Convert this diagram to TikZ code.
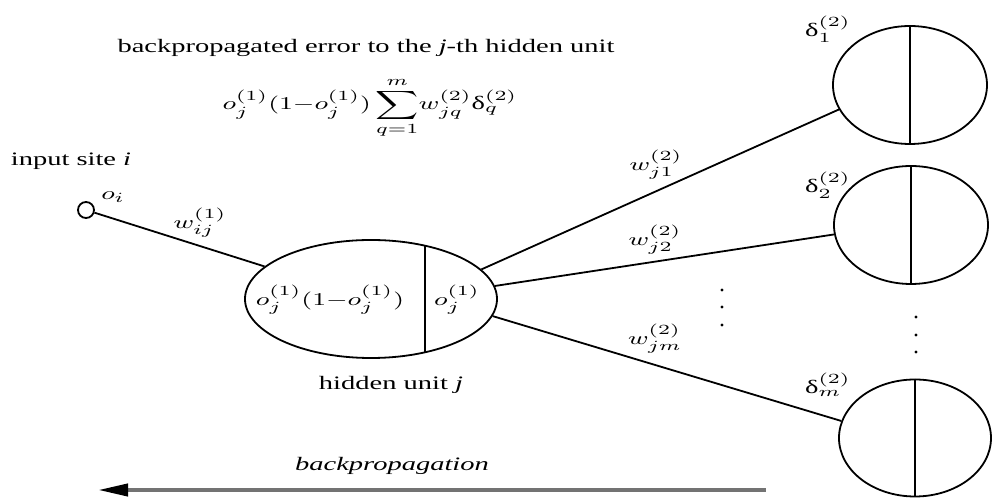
\documentclass[tikz,border=0pt]{standalone}
\usepackage{fontspec}
\setmainfont{Liberation Serif}
\usepackage{graphicx}
\usetikzlibrary{arrows.meta,shapes.geometric}

% the scanned figure is stretched sideways
\newcommand{\wide}[1]{\scalebox{1.5}[1]{#1}}

\begin{document}
\begin{tikzpicture}[
  x=.5pt,y=-.5pt,
  font=\fontsize{9.5}{11}\selectfont,
  line width=.9pt,
  unit/.style={draw,ellipse,minimum width=77pt,minimum height=59pt,inner sep=0pt},
  lbl/.style={inner sep=0.5pt},
  dot/.style={fill=black},
  backflow/.style={draw=black!55,line width=2pt,
    {Triangle[length=15pt,width=6pt,color=black]}-}
]
\useasboundingbox (0,0) rectangle (992,501);

% error formula
\node[lbl] (title) at (366,48) {\wide{backpropagated error to the \textit{j}-th hidden unit}};
\node[lbl] (err) at (370,108) {\wide{$o_j^{(1)}(1{-}o_j^{(1)})\,{\displaystyle\sum\limits_{q=1}^{m}}w_{jq}^{(2)}\mbox{δ}_q^{(2)}$}};

% input site
\node[lbl] (site) at (71,161) {\wide{input site \textit{i}}};
\node[draw,circle,minimum size=8pt,inner sep=0pt] (inp) at (86,210) {};
\node[lbl] (oi) at (113,197) {\wide{$o_i$}};

% hidden unit
\node[draw,ellipse,minimum width=126pt,minimum height=59pt,inner sep=0pt] (hid) at (371,299) {};
\draw ([shift={(54,-53.3)}]hid.center) -- ([shift={(54,53.3)}]hid.center);
\node[lbl] (hidl) at (330,300) {\wide{$o_j^{(1)}(1{-}o_j^{(1)})$}};
\node[lbl] (hidr) at (457,300) {\wide{$o_j^{(1)}$}};
\node[lbl] (hidname) at (391,385) {\wide{hidden unit \textit{j}}};

% output units
\node[unit] (d1) at (910,85) {};
\node[unit] (d2) at (911,225) {};
\node[unit,minimum width=76pt,minimum height=58.5pt] (d3) at (915,438) {};
\foreach \u in {d1,d2,d3}
  \draw (\u.north) -- (\u.south);
\node[lbl] (del1) at (828,29) {\wide{δ$_1^{(2)}$}};
\node[lbl] (del2) at (828,185) {\wide{δ$_2^{(2)}$}};
\node[lbl] (delm) at (828,385) {\wide{δ$_m^{(2)}$}};

% weights
\draw (inp) -- (hid.163.5);
\draw (hid.15.7) -- (d1.199.1);
\draw (hid.6.3) -- (d2.187.7);
\draw (hid.-8.7) -- (d3.167.6);
\node[lbl] (wij) at (200,223) {\wide{$w_{ij}^{(1)}$}};
\node[lbl] (wj1) at (656,165) {\wide{$w_{j1}^{(2)}$}};
\node[lbl] (wj2) at (655,240) {\wide{$w_{j2}^{(2)}$}};
\node[lbl] (wjm) at (655,339) {\wide{$w_{jm}^{(2)}$}};

% dots
\foreach \y in {290,307,325}
  \fill[dot] (722,\y) circle (1.6);
\foreach \y in {317,335,352}
  \fill[dot] (916,\y) circle (1.6);

% direction
\coordinate (bpR) at (766,490);
\coordinate (bpL) at (98,490);
\draw[backflow] (bpL) -- (bpR);
\node[lbl] (back) at (392,466) {\wide{\textit{backpropagation}}};
\end{tikzpicture}
\end{document}
